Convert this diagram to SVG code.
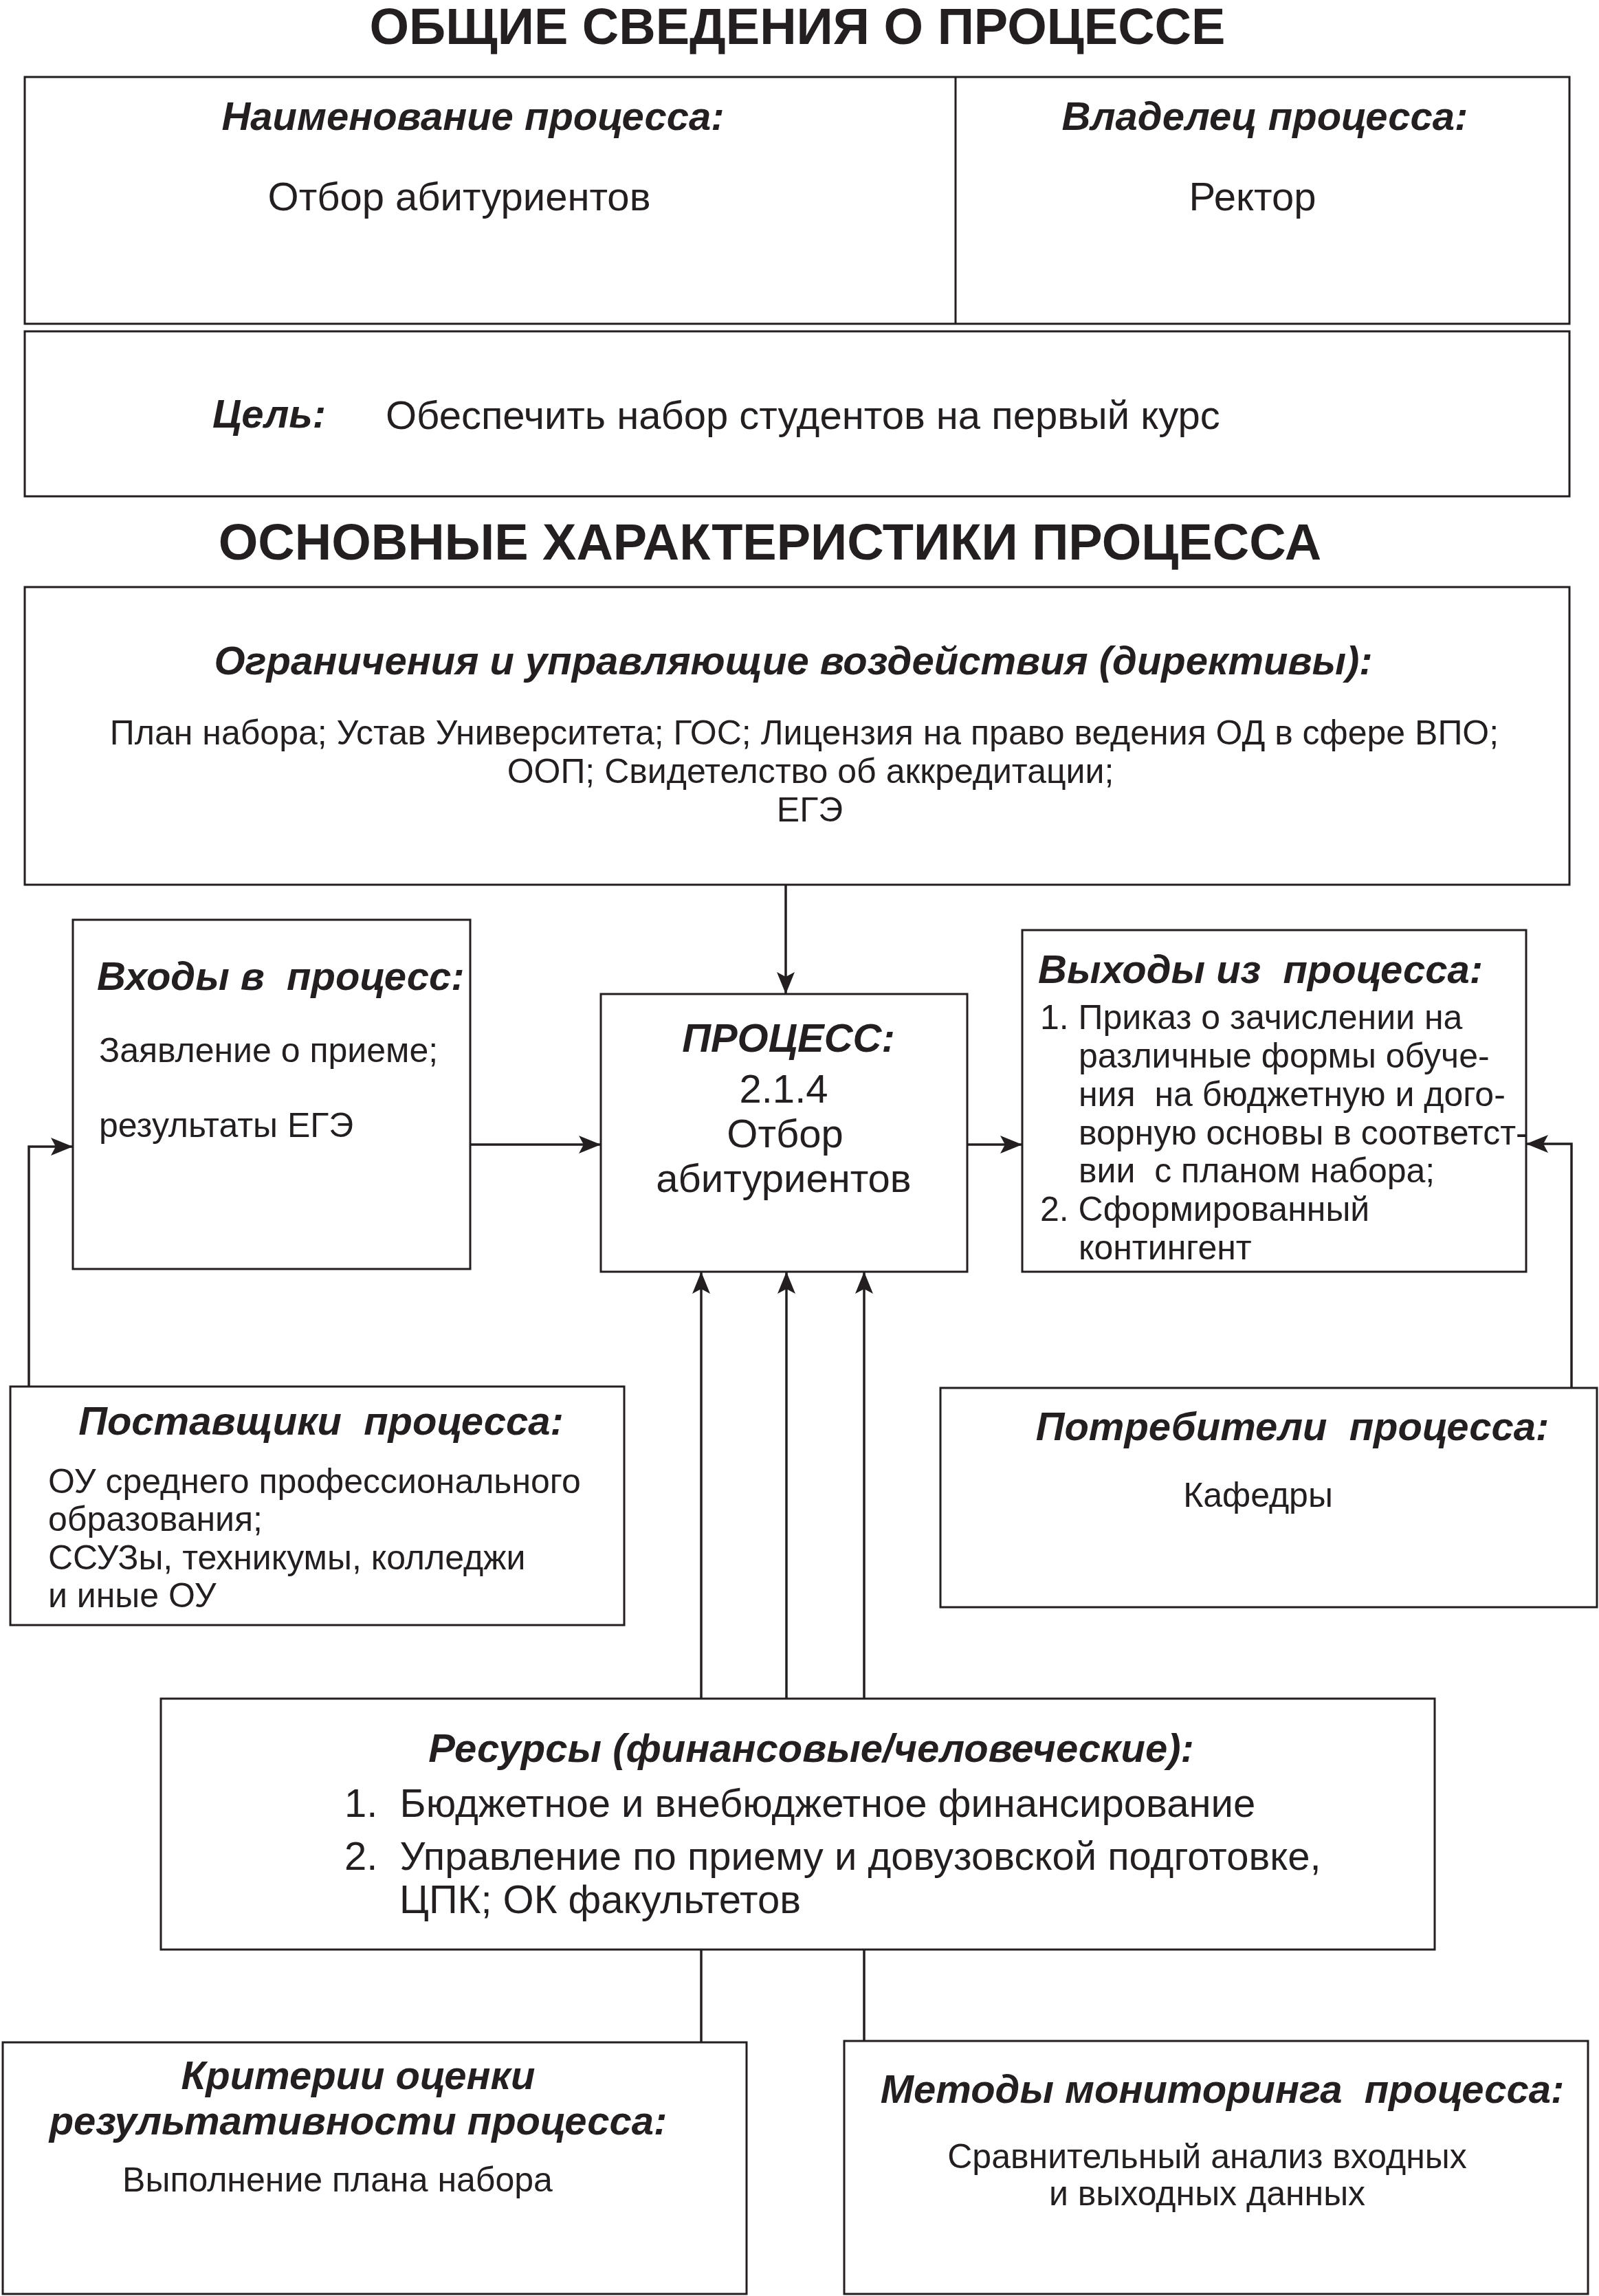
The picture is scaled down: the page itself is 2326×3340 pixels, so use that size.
<svg xmlns="http://www.w3.org/2000/svg" width="2326" height="3340" viewBox="0 0 2326 3340">
<style>
.box{fill:#fff;stroke:#231f20;stroke-width:3}
.ln{fill:none;stroke:#231f20;stroke-width:3.5}
text{font-family:"Liberation Sans",Arial,sans-serif;fill:#231f20;white-space:pre}
.h{font-weight:bold;font-style:italic;font-size:58px}
.b{font-size:50px}
.B{font-size:58px}
.title{font-weight:bold;font-size:74px}
.c{text-anchor:middle}
</style>
<defs>
<marker id="arr" viewBox="0 0 32 26" refX="32" refY="13" markerWidth="32" markerHeight="26" markerUnits="userSpaceOnUse" orient="auto">
<path d="M0,0 L32,13 L0,26 L7,13 Z" fill="#231f20"/>
</marker>
</defs>
<rect width="2326" height="3340" fill="#fff"/>

<text class="title c" x="1160" y="64">ОБЩИЕ СВЕДЕНИЯ О ПРОЦЕССЕ</text>
<text class="title c" x="1120" y="814">ОСНОВНЫЕ ХАРАКТЕРИСТИКИ ПРОЦЕССА</text>

<g id="general">
<rect class="box" x="36" y="112" width="2247" height="359"/>
<line class="box" x1="1390" y1="112" x2="1390" y2="471"/>
<text class="h c" x="688" y="189">Наименование процесса:</text>
<text class="B c" x="668" y="306">Отбор абитуриентов</text>
<text class="h c" x="1840" y="189">Владелец процесса:</text>
<text class="B c" x="1822" y="306">Ректор</text>
</g>

<g id="goal">
<rect class="box" x="36" y="482" width="2247" height="240"/>
<text class="h" x="309" y="622">Цель:</text>
<text class="B" x="561" y="624">Обеспечить набор студентов на первый курс</text>
</g>

<g id="directives">
<rect class="box" x="36" y="854" width="2247" height="433"/>
<text class="h c" x="1154" y="981">Ограничения и управляющие воздействия (директивы):</text>
<text class="b c" x="1170" y="1083">План набора; Устав Университета; ГОС; Лицензия на право ведения ОД в сфере ВПО;</text>
<text class="b c" x="1179" y="1139">ООП; Свидетелство об аккредитации;</text>
<text class="b c" x="1178" y="1195">ЕГЭ</text>
</g>

<g id="inputs">
<rect class="box" x="106" y="1338" width="578" height="508"/>
<text class="h" x="141" y="1440">Входы в  процесс:</text>
<text class="b" x="144" y="1545">Заявление о приеме;</text>
<text class="b" x="144" y="1654">результаты ЕГЭ</text>
</g>

<g id="process">
<rect class="box" x="874" y="1446" width="533" height="404"/>
<text class="h c" x="1147" y="1530">ПРОЦЕСС:</text>
<text class="B c" x="1140" y="1604">2.1.4</text>
<text class="B c" x="1142" y="1669">Отбор</text>
<text class="B c" x="1140" y="1734">абитуриентов</text>
</g>

<g id="outputs">
<rect class="box" x="1487" y="1353" width="733" height="497"/>
<text class="h" x="1510" y="1430">Выходы из  процесса:</text>
<text class="b" x="1513" y="1497">1. Приказ о зачислении на</text>
<text class="b" x="1569" y="1553">различные формы обуче-</text>
<text class="b" x="1569" y="1609">ния  на бюджетную и дого-</text>
<text class="b" x="1569" y="1665">ворную основы в соответст-</text>
<text class="b" x="1569" y="1720">вии  с планом набора;</text>
<text class="b" x="1513" y="1776">2. Сформированный</text>
<text class="b" x="1569" y="1832">контингент</text>
</g>

<g id="suppliers">
<rect class="box" x="15" y="2017" width="893" height="347"/>
<text class="h c" x="467" y="2087">Поставщики  процесса:</text>
<text class="b" x="70" y="2172">ОУ среднего профессионального</text>
<text class="b" x="70" y="2227">образования;</text>
<text class="b" x="70" y="2283">ССУЗы, техникумы, колледжи</text>
<text class="b" x="70" y="2338">и иные ОУ</text>
</g>

<g id="consumers">
<rect class="box" x="1368" y="2019" width="955" height="319"/>
<text class="h c" x="1880" y="2095">Потребители  процесса:</text>
<text class="b c" x="1830" y="2192">Кафедры</text>
</g>

<g id="resources">
<rect class="box" x="234" y="2471" width="1853" height="365"/>
<text class="h c" x="1180" y="2563">Ресурсы (финансовые/человеческие):</text>
<text class="B" x="501" y="2643">1.  Бюджетное и внебюджетное финансирование</text>
<text class="B" x="501" y="2720">2.  Управление по приему и довузовской подготовке,</text>
<text class="B" x="581" y="2783">ЦПК; ОК факультетов</text>
</g>

<g id="criteria">
<rect class="box" x="4" y="2971" width="1082" height="366"/>
<text class="h c" x="521" y="3039">Критерии оценки</text>
<text class="h c" x="521" y="3105">результативности процесса:</text>
<text class="b c" x="491" y="3188">Выполнение плана набора</text>
</g>

<g id="monitoring">
<rect class="box" x="1228" y="2969" width="1082" height="368"/>
<text class="h c" x="1778" y="3059">Методы мониторинга  процесса:</text>
<text class="b c" x="1756" y="3154">Сравнительный анализ входных</text>
<text class="b c" x="1756" y="3208">и выходных данных</text>
</g>

<g id="connectors">
<line class="ln" x1="1143" y1="1287" x2="1143" y2="1446" marker-end="url(#arr)"/>
<line class="ln" x1="684" y1="1665" x2="874" y2="1665" marker-end="url(#arr)"/>
<line class="ln" x1="1407" y1="1665" x2="1487" y2="1665" marker-end="url(#arr)"/>
<path class="ln" d="M42,2017 V1668 H106" marker-end="url(#arr)"/>
<path class="ln" d="M2286,2019 V1664 H2220" marker-end="url(#arr)"/>
<line class="ln" x1="1020" y1="2471" x2="1020" y2="1850" marker-end="url(#arr)"/>
<line class="ln" x1="1144" y1="2471" x2="1144" y2="1850" marker-end="url(#arr)"/>
<line class="ln" x1="1257" y1="2471" x2="1257" y2="1850" marker-end="url(#arr)"/>
<line class="ln" x1="1020" y1="2836" x2="1020" y2="2971"/>
<line class="ln" x1="1257" y1="2836" x2="1257" y2="2969"/>
</g>
</svg>
